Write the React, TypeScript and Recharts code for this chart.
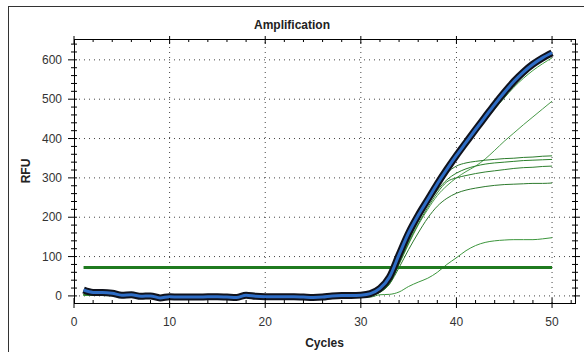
import { LineChart, Line, XAxis, YAxis, ReferenceLine } from "recharts";

const cycles = [
    1, 2, 3, 4, 5, 6, 7, 8, 9, 10, 11, 12, 13, 14, 15, 16, 17, 18, 19, 20, 21, 22, 23, 24, 25,
    26, 27, 28, 29, 30, 31, 32, 33, 34, 35, 36, 37, 38, 39, 40, 41, 42, 43, 44, 45, 46, 47, 48, 49, 50,
];

// highlighted well (thick blue trace)
const selected = [
    15, 9, 9, 7, 2, 3, -1, 0, -5, -2, -3, -3, -3, -2, -2, -3, -4, 2, -1, -2, -2, -2, -2, -3, -4,
    -3, 0, 1, 1, 2, 6, 19, 48, 105, 160, 205, 245, 285, 322, 357, 390, 423, 455, 487, 517, 545, 569, 589, 605, 618,
];

const wellA = [
    4, 3, 3, 2, 1, 1, 0, 0, -2, -1, -1, -1, -2, -1, -1, -1, -2, 1, 0, -1, -1, -1, -1, -2, -2,
    -2, 0, 0, 1, 1, 4, 14, 38, 90, 148, 196, 238, 278, 316, 350, 383, 414, 445, 475, 503, 530, 553, 573, 590, 605,
];
const wellB = [
    3, 2, 2, 2, 1, 0, 0, 1, -1, 0, -1, 0, -1, -1, 0, -1, -1, 0, 0, -1, 0, -1, 0, -1, -1,
    -1, 0, 1, 1, 1, 2, 10, 32, 80, 132, 180, 220, 255, 280, 300, 316, 330, 348, 370, 393, 414, 435, 455, 475, 495,
];
const wellC = [
    2, 2, 1, 1, 1, 0, 0, 0, -1, 0, 0, -1, 0, 0, -1, 0, -1, 0, 0, 0, -1, 0, 0, -1, 0,
    0, 0, 1, 0, 1, 3, 12, 36, 88, 145, 195, 240, 280, 312, 330, 338, 342, 345, 347, 349, 350, 352, 353, 355, 356,
];
const wellD = [
    3, 2, 2, 1, 0, 1, 0, 0, -1, -1, 0, 0, -1, 0, 0, 0, -1, 1, 0, 0, 0, 0, -1, 0, -1,
    0, 0, 0, 1, 1, 3, 11, 34, 85, 140, 190, 232, 268, 295, 312, 323, 330, 335, 338, 340, 342, 344, 345, 346, 347,
];
const wellE = [
    2, 1, 1, 1, 0, 0, -1, 0, -1, -1, -1, 0, 0, -1, 0, -1, 0, 0, -1, 0, 0, 0, 0, -1, -1,
    0, 0, 1, 1, 0, 2, 10, 31, 82, 135, 183, 225, 262, 290, 300, 306, 311, 315, 318, 321, 324, 326, 327, 329, 330,
];
const wellF = [
    3, 2, 1, 1, 1, 0, 0, 0, 0, -1, 0, -1, 0, 0, 0, -1, -1, 1, 0, 0, -1, 0, 0, 0, -1,
    0, 1, 0, 1, 1, 2, 9, 30, 72, 118, 160, 198, 228, 248, 261, 269, 274, 278, 281, 283, 284, 285, 286, 286, 287,
];
const wellG = [
    2, 2, 1, 1, 0, 1, 0, 0, -1, 0, 0, -1, -1, 0, 0, -1, 0, 0, 0, -1, 0, 0, -1, -1, 0,
    0, 1, 0, -1, -4, -3, 3, 4, 10, 24, 35, 45, 60, 80, 97, 115, 128, 136, 140, 142, 143, 143, 143, 145, 148,
];

const threshold = 72;
const xTicks = [0, 2, 4, 6, 8, 10, 12, 14, 16, 18, 20, 22, 24, 26, 28, 30, 32, 34, 36, 38, 40, 42, 44, 46, 48, 50, 52];
const yTicks = [0, 20, 40, 60, 80, 100, 120, 140, 160, 180, 200, 220, 240, 260, 280, 300, 320, 340, 360, 380, 400, 420, 440, 460, 480, 500, 520, 540, 560, 580, 600, 620, 640];
const xGrid = [10, 20, 30, 40, 50];
const yGrid = [0, 100, 200, 300, 400, 500, 600];

const greens = [
    { key: "a", color: "#3f9f3f" },
    { key: "b", color: "#4a9a4a" },
    { key: "c", color: "#2c7c2c" },
    { key: "d", color: "#2a802a" },
    { key: "e", color: "#2f7f2f" },
    { key: "f", color: "#2d7a2d" },
    { key: "g", color: "#3c963c" },
];

const data = cycles.map((c, i) => ({
    cycle: c,
    sel: selected[i],
    a: wellA[i], b: wellB[i], c: wellC[i], d: wellD[i], e: wellE[i], f: wellF[i], g: wellG[i],
}));

const PLOT_W = 501;
const PLOT_H = 264;
const FONT = "'Liberation Sans', Arial, sans-serif";

function XTick({ x, y, payload }: any) {
    const v = payload.value;
    const major = v % 10 === 0;
    const top = y - PLOT_H;
    return (
        <g>
            <line x1={x} x2={x} y1={major ? y - 5 : y - 3} y2={major ? y + 5 : y} stroke="#000" />
            <line x1={x} x2={x} y1={major ? top - 3 : top} y2={major ? top + 5 : top + 3} stroke="#000" />
            {major && (
                <text x={x} y={y + 23} textAnchor="middle" fontSize={12} fontFamily={FONT} fill="#333">{v}</text>
            )}
        </g>
    );
}

function YTick({ x, y, payload }: any) {
    const v = payload.value;
    const major = v % 100 === 0;
    const right = x + PLOT_W;
    return (
        <g>
            <line x1={major ? x - 6 : x - 3} x2={x + 3} y1={y} y2={y} stroke="#000" />
            <line x1={right - 3} x2={major ? right + 5 : right + 3} y1={y} y2={y} stroke="#000" />
            {major && (
                <text x={x - 12} y={y + 4} textAnchor="end" fontSize={12} fontFamily={FONT} fill="#333">{v}</text>
            )}
        </g>
    );
}

export default function App() {
    return (
        <div style={{ position: "absolute", left: 0, top: 0, width: 584, height: 352, background: "#fff", overflow: "hidden", fontFamily: FONT }}>
            <div style={{ position: "absolute", left: 8, top: 6, width: 600, height: 400, borderLeft: "1px solid #333", borderTop: "1px solid #333" }} />
            <div style={{ position: "absolute", left: 0, top: 17, width: 584, textAlign: "center", fontSize: 12, fontWeight: 700, lineHeight: "16px", color: "#222" }}>
                Amplification
            </div>
            <div style={{ position: "absolute", left: 26, top: 171, transform: "translate(-50%, -50%) rotate(-90deg)", fontSize: 12, fontWeight: 700, lineHeight: "16px", color: "#222" }}>
                RFU
            </div>
            <div style={{ position: "absolute", left: 74, top: 335, width: PLOT_W, textAlign: "center", fontSize: 12, fontWeight: 700, lineHeight: "16px", color: "#222" }}>
                Cycles
            </div>
            <div style={{ position: "absolute", left: 0, top: 0 }}>
                <LineChart width={584} height={352} data={data} margin={{ top: 39, right: 9, bottom: 19, left: 34 }}>
                    <XAxis dataKey="cycle" type="number" domain={[0, 52.4]} ticks={xTicks} interval={0} allowDataOverflow
                        height={30} tickSize={0} tickMargin={0} axisLine={false} tickLine={false} tick={<XTick />} />
                    <YAxis type="number" domain={[-18, 653]} ticks={yTicks} interval={0} allowDataOverflow
                        width={40} tickSize={0} tickMargin={0} axisLine={false} tickLine={false} tick={<YTick />} />
                    {xGrid.map(v => (
                        <ReferenceLine key={"x" + v} x={v} stroke="#444" strokeDasharray="1 4" />
                    ))}
                    {yGrid.map(v => (
                        <ReferenceLine key={"y" + v} y={v} stroke="#444" strokeDasharray="1 4" />
                    ))}
                    {greens.map(g => (
                        <Line key={g.key} dataKey={g.key} type="monotone" stroke={g.color} strokeWidth={1} dot={false} isAnimationActive={false} />
                    ))}
                    <ReferenceLine segment={[{ x: 1, y: threshold }, { x: 50, y: threshold }]} stroke="#1f7a1f" strokeWidth={3} />
                    <Line dataKey="sel" type="monotone" stroke="#10121c" strokeWidth={7} strokeLinejoin="round" dot={false} isAnimationActive={false} />
                    <Line dataKey="sel" type="monotone" stroke="#2e6dc6" strokeWidth={3} strokeLinejoin="round" dot={false} isAnimationActive={false} />
                </LineChart>
            </div>
            <div style={{ position: "absolute", left: 74, top: 39, width: 502, height: 265, boxSizing: "border-box", border: "1px solid #000", pointerEvents: "none" }} />
        </div>
    );
}
